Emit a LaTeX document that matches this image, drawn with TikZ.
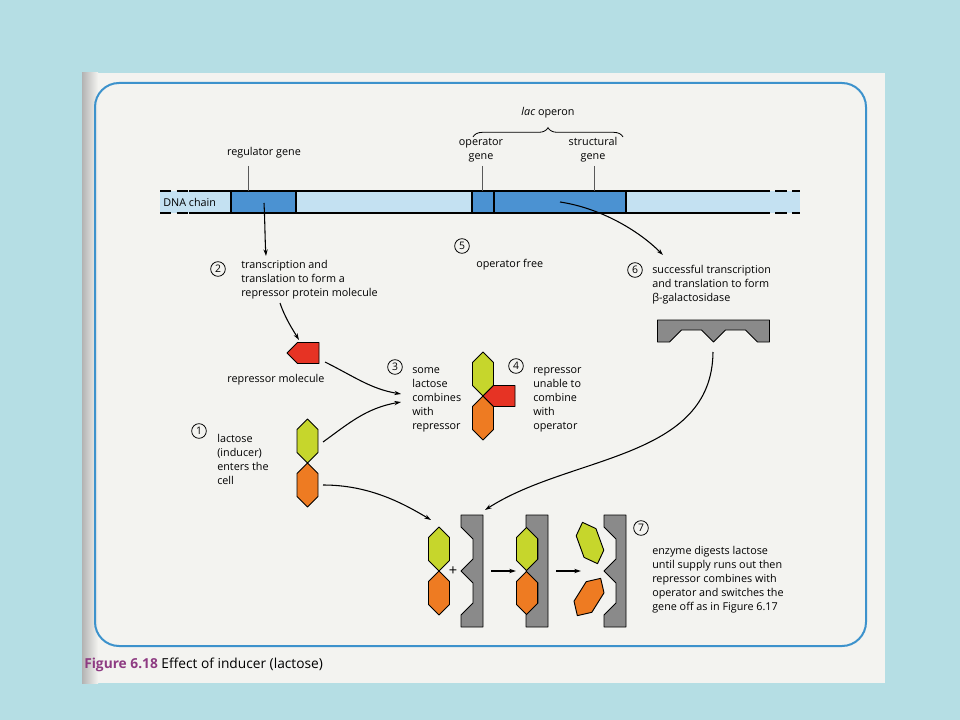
\documentclass[tikz,border=0pt]{standalone}
\usepackage{fontspec}
\setmainfont{Open Sans}
\usetikzlibrary{arrows.meta,decorations.pathreplacing}

\definecolor{slide}{HTML}{B5DEE4}
\definecolor{page}{HTML}{F3F3F0}
\definecolor{frameblue}{HTML}{3C92CC}
\definecolor{dnalight}{HTML}{C4E1F2}
\definecolor{dnagene}{HTML}{4B92D2}
\definecolor{lgreen}{HTML}{C6D62C}
\definecolor{lorange}{HTML}{EE7B22}
\definecolor{lred}{HTML}{E63324}
\definecolor{egray}{HTML}{8A8A8A}
\definecolor{figpurple}{HTML}{8E3B82}

\begin{document}
\begin{tikzpicture}[x=0.75pt,y=-0.75pt,
	lbl/.style={font=\fontsize{8.1}{10.5}\selectfont, inner sep=0pt, align=left, anchor=west},
	num/.style={draw, circle, line width=0.6pt, inner sep=0pt, minimum size=11pt, font=\fontsize{7.8}{8}\selectfont},
	arr/.style={-{Stealth[length=5pt,width=3.2pt]}, line width=0.8pt},
	outline/.style={line width=0.7pt, line join=round},
	hexa/.pic={\draw[outline, fill=#1] (0,-22) -- (10.5,-11.5) -- (10.5,11.5) -- (0,22) -- (-10.5,11.5) -- (-10.5,-11.5) -- cycle;},
	lactose/.pic={\pic at (0,-22) {hexa=lgreen}; \pic at (0,22) {hexa=lorange};},
	repr/.pic={\draw[outline, fill=lred] (0,0) -- (10.5,-10.5) -- (32,-10.5) -- (32,10.5) -- (10.5,10.5) -- cycle;},
	enzyme/.pic={\draw[outline, fill=egray] (0,-56) -- (22,-56) -- (22,56) -- (0,56) -- (0,44) -- (12,32) -- (12,12) -- (0,0) -- (12,-12) -- (12,-32) -- (0,-44) -- cycle;}]

	% Slide and page
	\fill[slide] (0,0) rectangle (960,720);
	\fill[page] (82,73) rectangle (885,683);
	\shade[left color=gray!60, right color=page] (82,73) rectangle (98,683);
	\draw[frameblue, line width=1.5pt, rounded corners=18pt] (95,83) rectangle (866,646);

	% DNA chain
	\fill[dnalight] (160,191) rectangle (800,213);
	\fill[dnagene] (231,191) rectangle (296,213);
	\fill[dnagene] (472,191) rectangle (626,213);
	\draw[line width=1pt] (189,191) -- (770,191) (189,213) -- (770,213);
	\draw[line width=1pt, dash pattern=on 8.5pt off 4pt] (160,191) -- (189,191) (160,213) -- (189,213);
	\draw[line width=1pt, dash pattern=on 9pt off 4pt] (775,191) -- (800,191) (775,213) -- (800,213);
	\foreach \gx in {231,296,472,494,626}
		\draw[line width=1pt] (\gx,191) -- (\gx,213);
	\node[lbl] (dna) at (163,202) {DNA chain};

	% Gene labels
	\node[lbl, anchor=center] (reglbl) at (264,153) {regulator gene};
	\node[lbl, anchor=center, align=center] (oplbl) at (481,150) {operator\\gene};
	\node[lbl, anchor=center, align=center] (strlbl) at (593,150) {structural\\gene};
	\coordinate (rg1) at (248,166); \coordinate (rg2) at (248,191);
	\coordinate (og1) at (482,166); \coordinate (og2) at (482,191);
	\coordinate (sg1) at (594,166); \coordinate (sg2) at (594,191);
	\draw[gray!70!black, line width=0.6pt] (rg1) -- (rg2) (og1) -- (og2) (sg1) -- (sg2);
	\coordinate (br1) at (473,137); \coordinate (br2) at (623,137);
	\draw[line width=0.6pt, decorate, decoration={brace, amplitude=7pt}] (br1) -- (br2);
	\node[lbl, anchor=center] (laclbl) at (548,113) {\textit{lac} operon};

	% Steps 2 and 5, 6
	\node[num] (c2) at (218,269) {2};
	\node[lbl] (t2) at (241,280) {transcription and\\translation to form a\\repressor protein molecule};
	\node[num] (c5) at (462,246) {5};
	\node[lbl] (t5) at (476,265) {operator free};
	\node[num] (c6) at (635,270) {6};
	\node[lbl] (t6) at (652,285) {successful transcription\\and translation to form\\β-galactosidase};

	% Repressor molecule
	\pic at (287,353) {repr};
	\node[lbl, anchor=center] (replbl) at (276,380) {repressor molecule};

	% Steps 1, 3, 4
	\node[num] (c1) at (199,431) {1};
	\node[lbl] (t1) at (217,459) {lactose\\(inducer)\\enters the\\cell};
	\pic at (307.5,463) {lactose};
	\node[num] (c3) at (395,367) {3};
	\node[lbl] (t3) at (412,400) {some\\lactose\\combines\\with\\repressor};
	\pic at (483,396) {lactose};
	\pic at (483,396) {repr};
	\node[num] (c4) at (516,366) {4};
	\node[lbl] (t4) at (533,400) {repressor\\unable to\\combine\\with\\operator};

	% Enzyme
	\pic[rotate=90] at (713.5,342) {enzyme};

	% Enzyme and lactose
	\pic at (439,571) {lactose};
	\node[inner sep=0pt, font=\fontsize{11}{11}\selectfont] (plus) at (453,571) {+};
	\pic at (461,571) {enzyme};
	\pic at (527,571) {lactose};
	\pic at (526,571) {enzyme};
	\pic[rotate=20] at (590,543) {hexa=lgreen};
	\pic[rotate=-32] at (589,597) {hexa=lorange};
	\pic at (604,571) {enzyme};
	\node[num] (c7) at (641,528) {7};
	\node[lbl] (t7) at (652,580) {enzyme digests lactose\\until supply runs out then\\repressor combines with\\operator and switches the\\gene off as in Figure 6.17};

	% Arrows
	\coordinate (a1s) at (264,203); \coordinate (a1e) at (266,256);
	\coordinate (a2s) at (280,303); \coordinate (a2e) at (299,340);
	\coordinate (a3s) at (325,362); \coordinate (a3e) at (401,394);
	\coordinate (a4s) at (323,442); \coordinate (a4e) at (401,402);
	\coordinate (a5s) at (323,485); \coordinate (a5e) at (431,520);
	\coordinate (a6s) at (560,202); \coordinate (a6e) at (663,255);
	\coordinate (a7s) at (713,352); \coordinate (a7e) at (485,510);
	\coordinate (s1s) at (491,571); \coordinate (s1e) at (516,571);
	\coordinate (s2s) at (556,571); \coordinate (s2e) at (581,571);
	\draw[arr] (a1s) .. controls +(1,20) and +(-1,-15) .. (a1e);
	\draw[arr] (a2s) .. controls +(5,15) and +(-6,-10) .. (a2e);
	\draw[arr] (a3s) .. controls +(30,15) and +(-30,-5) .. (a3e);
	\draw[arr] (a4s) .. controls +(25,-18) and +(-35,6) .. (a4e);
	\draw[arr] (a5s) .. controls +(45,0) and +(-30,-18) .. (a5e);
	\draw[arr] (a6s) .. controls +(40,6) and +(-25,-25) .. (a6e);
	\draw[arr] (a7s) .. controls (712,460) and (570,455) .. (a7e);
	\draw[arr] (s1s) -- (s1e);
	\draw[arr] (s2s) -- (s2e);

	% Caption
	\node[inner sep=0pt, anchor=west, font=\fontsize{10.3}{12}\selectfont] (cap) at (84,665) {\textcolor{figpurple}{\bfseries Figure 6.18} Effect of inducer (lactose)};
\end{tikzpicture}
\end{document}
